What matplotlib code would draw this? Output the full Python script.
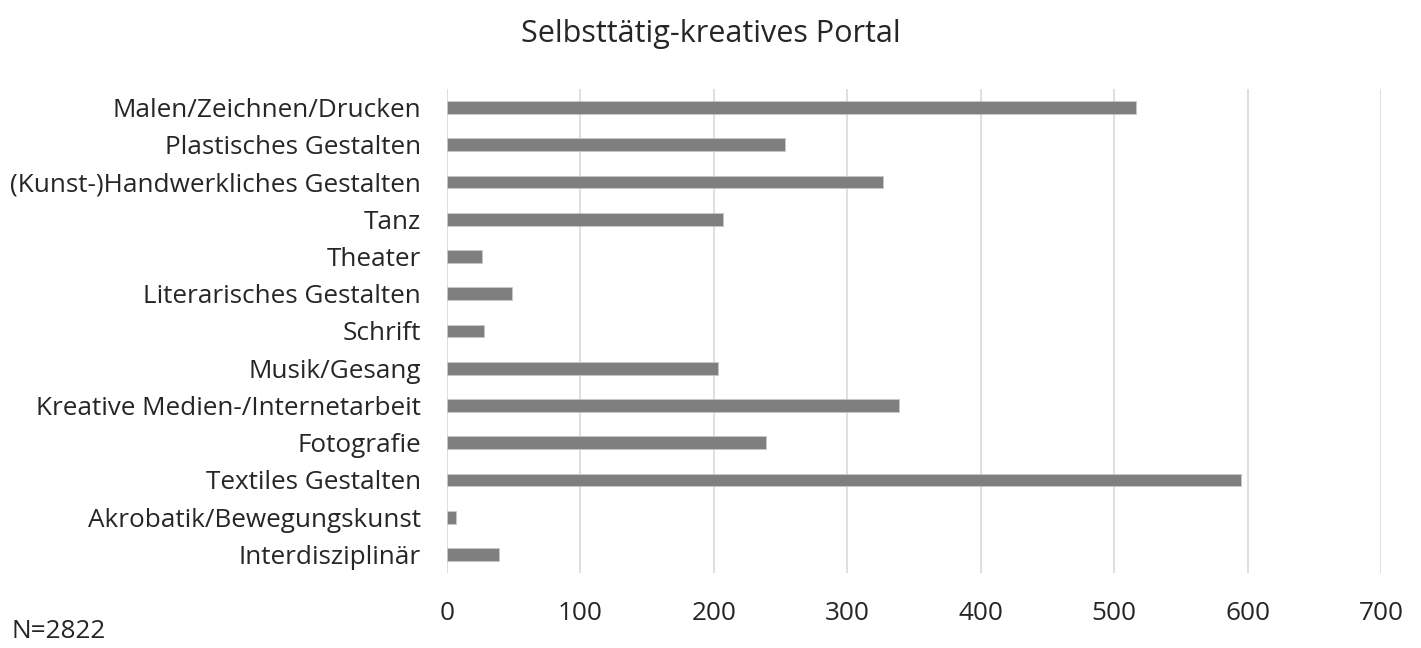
import matplotlib
matplotlib.use("Agg")
import matplotlib.pyplot as plt

categories = [
    "Malen/Zeichnen/Drucken",
    "Plastisches Gestalten",
    "(Kunst-)Handwerkliches Gestalten",
    "Tanz",
    "Theater",
    "Literarisches Gestalten",
    "Schrift",
    "Musik/Gesang",
    "Kreative Medien-/Internetarbeit",
    "Fotografie",
    "Textiles Gestalten",
    "Akrobatik/Bewegungskunst",
    "Interdisziplinär",
]
values = [516, 253, 327, 207, 26, 49, 28, 203, 339, 239, 595, 7, 39]
xticks = [0, 100, 200, 300, 400, 500, 600, 700]

plt.rcParams['font.family'] = ['Open Sans', 'DejaVu Sans']

fig = plt.figure(figsize=(14.21, 6.48), dpi=100)
ax = fig.add_axes([0.3146, 0.1157, 0.9719 - 0.3146, 0.8627 - 0.1157])

ypos = list(range(len(categories)))
ax.barh(ypos, values, height=0.34, color='#7f7f7f', edgecolor='#c8c8c8', linewidth=0.6, zorder=3)

ax.set_xlim(0, 700)
ax.set_ylim(len(categories) - 0.5, -0.5)
ax.set_xticks(xticks)
ax.set_yticks(ypos)
ax.set_yticklabels(categories)
ax.tick_params(axis='y', length=0, pad=19, labelsize=18.8, labelcolor='#262626')
ax.tick_params(axis='x', length=0, pad=20, labelsize=18.8, labelcolor='#262626')
ax.grid(axis='x', color='#d9d9d9', linewidth=1.2, zorder=0)
for s in ax.spines.values():
    s.set_visible(False)

fig.text(0.5, 0.948, "Selbsttätig-kreatives Portal", ha='center', va='center', fontsize=22, color='#262626')
fig.text(0.008, 0.006, "N=2822", ha='left', va='bottom', fontsize=18.8, color='#262626')

fig.savefig("out.png", dpi=100)
